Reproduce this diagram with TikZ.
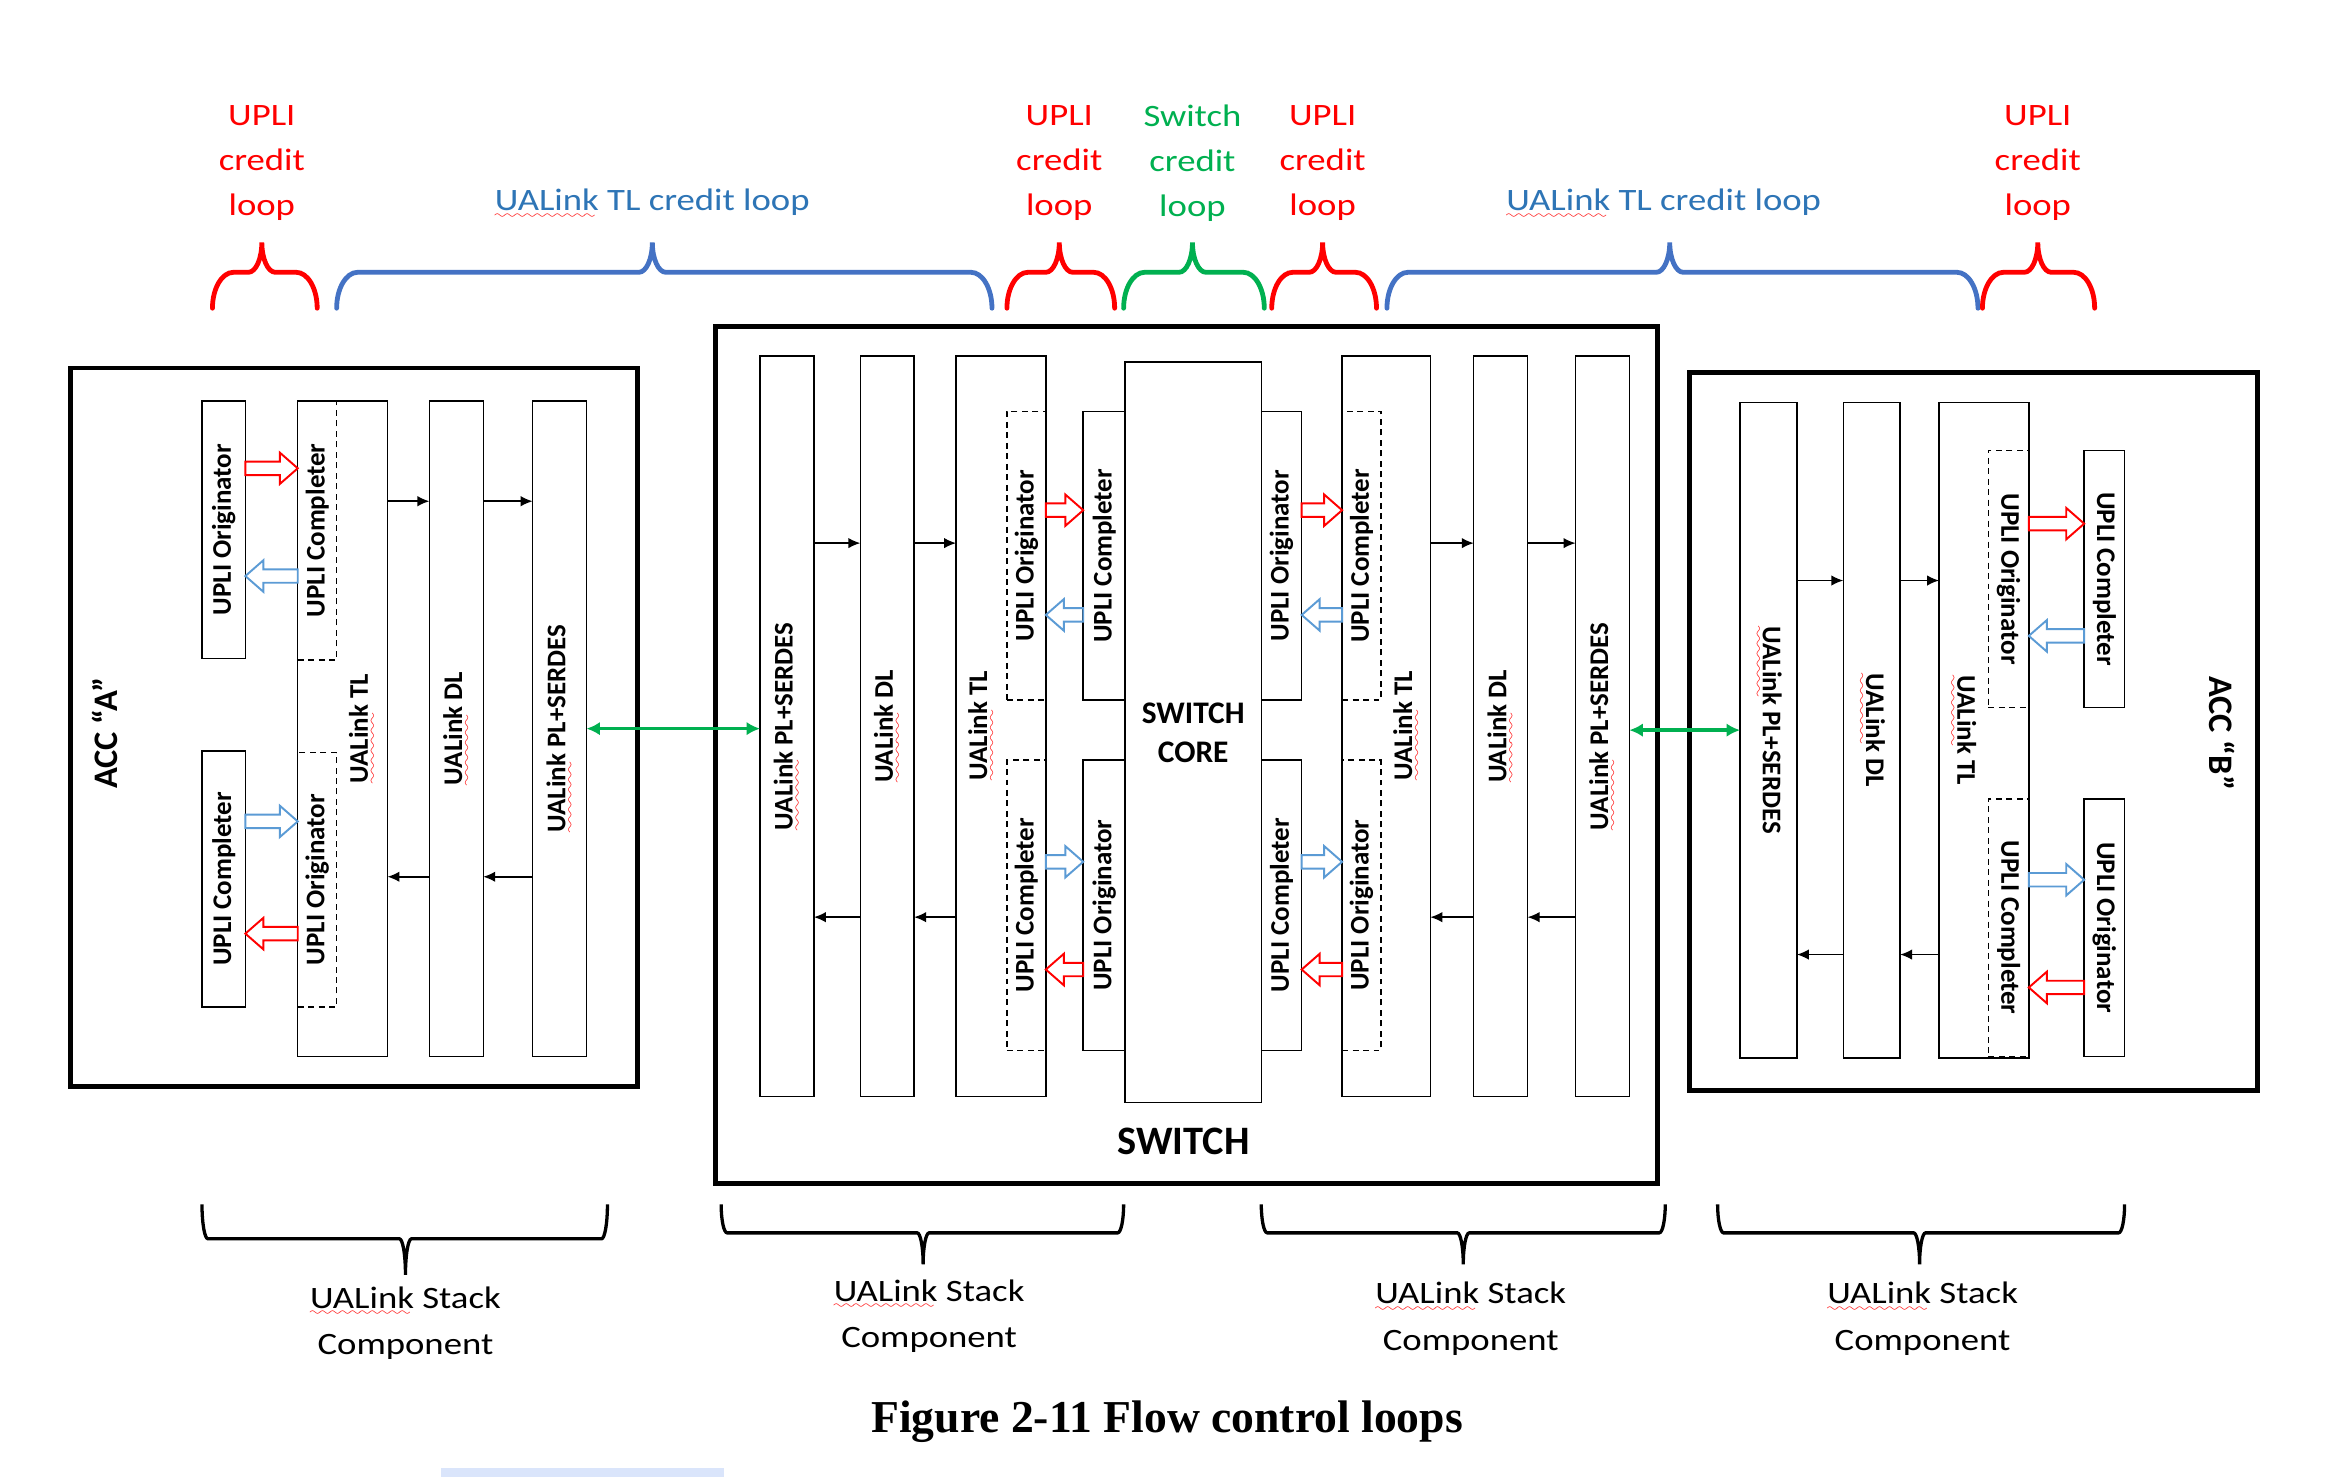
\documentclass[tikz,border=0pt]{standalone}
\usepackage{fontspec}
\setmainfont{Carlito}
\newfontfamily\lblfont[FakeStretch=1.18]{Carlito}
\newfontfamily\capfont{Liberation Serif}
\usepackage{graphicx}
\usetikzlibrary{arrows.meta,calc}
\definecolor{upred}{RGB}{255,0,0}
\definecolor{tlblue}{RGB}{46,117,182}
\definecolor{brblue}{RGB}{68,114,196}
\definecolor{swgreen}{RGB}{0,176,80}
\definecolor{arblue}{RGB}{91,155,213}
\definecolor{barblue}{RGB}{218,229,251}
\font\sqfont=lasy6 at 8pt
\newcommand\sq[1]{\setbox0\hbox{#1}\rlap{\textcolor{red}{\lower5pt\hbox to\wd0{\leaders\hbox{\sqfont\char58}\hfill}}}#1}
% box: style, name, x1, y1, x2, y2, text
\newcommand\bx[7]{\node[#1, minimum width={(#5)-(#3)}, minimum height={(#6)-(#4)}] (#2) at ({((#3)+(#5))/2},{((#4)+(#6))/2}) {#7};}
% brace: style, xa, xb, xm, yb, ym, yt, rx, tx
\newcommand\cbrace[9]{\draw[#1] (#2,#5) .. controls (#2,{#5-0.55*(#5-#6)}) and ({#2+0.45*#8},#6) .. ({#2+#8},#6)
 -- ({#4-#9},#6) .. controls ({#4-0.45*#9},#6) and (#4,{#7+0.55*(#6-#7)}) .. (#4,#7)
 .. controls (#4,{#7+0.55*(#6-#7)}) and ({#4+0.45*#9},#6) .. ({#4+#9},#6)
 -- ({#3-#8},#6) .. controls ({#3-0.45*#8},#6) and (#3,{#5-0.55*(#5-#6)}) .. (#3,#5);}
% hollow arrow: colour, from node anchor, to node anchor, y
\newcommand\harrow[4]{\draw[#1, line width=1.3pt, line join=miter] let \p1=(#2|-0,#4), \p2=(#3|-0,#4), \n1={sign(\x2-\x1)} in
 (\x1,\y1+4.5pt) -- ({\x2-(\n1)*12pt},\y1+4.5pt) -- ({\x2-(\n1)*12pt},\y1+10.5pt) -- (\x2,\y1)
 -- ({\x2-(\n1)*12pt},\y1-10.5pt) -- ({\x2-(\n1)*12pt},\y1-4.5pt) -- (\x1,\y1-4.5pt) -- cycle;}
\tikzset{
 box/.style={draw, line width=1pt, inner sep=0pt, outer sep=0pt, font=\bfseries\fontsize{18}{20}\selectfont},
 dbox/.style={box, dash pattern=on 4pt off 3pt},
 outerbox/.style={draw, line width=3.2pt, inner sep=0pt, outer sep=0pt},
 txt/.style={inner sep=0pt, font=\bfseries\fontsize{18}{20}\selectfont},
 lbl/.style={inner sep=0pt, align=center, font=\lblfont\fontsize{20.8}{30}\selectfont},
 slbl/.style={inner sep=0pt, align=center, font=\lblfont\fontsize{20.8}{31}\selectfont},
 sarr/.style={line width=1pt, -{Latex[length=8pt,width=7pt]}},
 garr/.style={swgreen, line width=2.2pt, {Latex[length=9pt,width=9pt]}-{Latex[length=9pt,width=9pt]}},
 tbrace/.style={line width=3.2pt, line cap=round},
 bbrace/.style={line width=2.2pt, black}
}
\begin{document}
\begin{tikzpicture}[x=1pt,y=-1pt]
\useasboundingbox (0,0) rectangle (1568,987);
\fill[white] (0,0) rectangle (1568,987);

% ---------- ACC A ----------
\bx{outerbox}{accA}{47}{246}{426}{726}{}
\bx{box}{oA1}{135}{268}{164}{440}{\rotatebox{90}{UPLI Originator}}
\bx{box}{cA2}{135}{502}{164}{673}{\rotatebox{90}{UPLI Completer}}
\bx{box}{tlA}{199}{268}{259}{706}{}
\bx{dbox}{dcA}{199}{268}{225}{441}{\rotatebox{90}{UPLI Completer}}
\bx{dbox}{doA}{199}{503}{225}{673}{\rotatebox{90}{UPLI Originator}}
\node[txt] (tlAt) at (242,487) {\rotatebox{90}{\sq{UALink} TL}};
\bx{box}{dlA}{287}{268}{323}{706}{\rotatebox{90}{\sq{UALink} DL}}
\bx{box}{plA}{356}{268}{392}{706}{\rotatebox{90}{\sq{UALink} PL+SERDES}}
\node[txt, font=\bfseries\fontsize{23}{26}\selectfont] (accAt) at (70,490) {\rotatebox{90}{ACC “A”}};
\draw[sarr] (tlA.east|-0,335) -- (dlA.west|-0,335);
\draw[sarr] (dlA.east|-0,335) -- (plA.west|-0,335);
\draw[sarr] (dlA.west|-0,586) -- (tlA.east|-0,586);
\draw[sarr] (plA.west|-0,586) -- (dlA.east|-0,586);
\harrow{upred}{oA1.east}{dcA.west}{313}
\harrow{arblue}{dcA.west}{oA1.east}{385}
\harrow{arblue}{cA2.east}{doA.west}{549}
\harrow{upred}{doA.west}{cA2.east}{624}

% ---------- SWITCH ----------
\bx{outerbox}{sw}{478}{218}{1108}{791}{}
\bx{box}{plS1}{508}{238}{544}{733}{\rotatebox{90}{\sq{UALink} PL+SERDES}}
\bx{box}{dlS1}{575}{238}{611}{733}{\rotatebox{90}{\sq{UALink} DL}}
\bx{box}{tlS1}{639}{238}{699}{733}{}
\bx{dbox}{doS1}{673}{275}{699}{468}{\rotatebox{90}{UPLI Originator}}
\bx{dbox}{dcS1}{673}{508}{699}{702}{\rotatebox{90}{UPLI Completer}}
\node[txt] (tlS1t) at (656,485) {\rotatebox{90}{\sq{UALink} TL}};
\bx{box}{cS1}{724}{275}{752}{468}{\rotatebox{90}{UPLI Completer}}
\bx{box}{oS1}{724}{508}{752}{702}{\rotatebox{90}{UPLI Originator}}
\bx{box}{oS2}{843}{275}{870}{468}{\rotatebox{90}{UPLI Originator}}
\bx{box}{cS2}{843}{508}{870}{702}{\rotatebox{90}{UPLI Completer}}
\bx{box, align=center, font=\bfseries\fontsize{21}{26}\selectfont}{core}{752}{242}{843}{737}{SWITCH\\CORE}
\bx{box}{tlS2}{897}{238}{956}{733}{}
\bx{dbox}{dcS2}{897}{275}{923}{468}{\rotatebox{90}{UPLI Completer}}
\bx{dbox}{doS2}{897}{508}{923}{702}{\rotatebox{90}{UPLI Originator}}
\node[txt] (tlS2t) at (940,485) {\rotatebox{90}{\sq{UALink} TL}};
\bx{box}{dlS2}{985}{238}{1021}{733}{\rotatebox{90}{\sq{UALink} DL}}
\bx{box}{plS2}{1053}{238}{1089}{733}{\rotatebox{90}{\sq{UALink} PL+SERDES}}
\node[txt, font=\bfseries\fontsize{27}{30}\selectfont] (swt) at (791,763) {SWITCH};
\draw[sarr] (plS1.east|-0,363) -- (dlS1.west|-0,363);
\draw[sarr] (dlS1.east|-0,363) -- (tlS1.west|-0,363);
\draw[sarr] (tlS1.west|-0,613) -- (dlS1.east|-0,613);
\draw[sarr] (dlS1.west|-0,613) -- (plS1.east|-0,613);
\draw[sarr] (tlS2.east|-0,363) -- (dlS2.west|-0,363);
\draw[sarr] (dlS2.east|-0,363) -- (plS2.west|-0,363);
\draw[sarr] (plS2.west|-0,613) -- (dlS2.east|-0,613);
\draw[sarr] (dlS2.west|-0,613) -- (tlS2.east|-0,613);
\harrow{upred}{doS1.east}{cS1.west}{341}
\harrow{arblue}{cS1.west}{doS1.east}{411}
\harrow{arblue}{dcS1.east}{oS1.west}{576}
\harrow{upred}{oS1.west}{dcS1.east}{648}
\harrow{upred}{oS2.east}{dcS2.west}{341}
\harrow{arblue}{dcS2.west}{oS2.east}{411}
\harrow{arblue}{cS2.east}{doS2.west}{576}
\harrow{upred}{doS2.west}{cS2.east}{648}

% ---------- ACC B ----------
\bx{outerbox}{accB}{1129}{249}{1509}{729}{}
\bx{box}{plB}{1163}{269}{1201}{707}{\rotatebox{-90}{\sq{UALink} PL+SERDES}}
\bx{box}{dlB}{1232}{269}{1270}{707}{\rotatebox{-90}{\sq{UALink} DL}}
\bx{box}{tlB}{1296}{269}{1356}{707}{}
\bx{dbox}{doB}{1329}{301}{1356}{473}{\rotatebox{-90}{UPLI Originator}}
\bx{dbox}{dcB}{1329}{534}{1356}{706}{\rotatebox{-90}{UPLI Completer}}
\node[txt] (tlBt) at (1312,488) {\rotatebox{-90}{\sq{UALink} TL}};
\bx{box}{cB1}{1393}{301}{1420}{473}{\rotatebox{-90}{UPLI Completer}}
\bx{box}{oB2}{1393}{534}{1420}{706}{\rotatebox{-90}{UPLI Originator}}
\node[txt, font=\bfseries\fontsize{23}{26}\selectfont] (accBt) at (1485,490) {\rotatebox{-90}{ACC “B”}};
\draw[sarr] (plB.east|-0,388) -- (dlB.west|-0,388);
\draw[sarr] (dlB.east|-0,388) -- (tlB.west|-0,388);
\draw[sarr] (tlB.west|-0,638) -- (dlB.east|-0,638);
\draw[sarr] (dlB.west|-0,638) -- (plB.east|-0,638);
\harrow{upred}{doB.east}{cB1.west}{350}
\harrow{arblue}{cB1.west}{doB.east}{425}
\harrow{arblue}{dcB.east}{oB2.west}{588}
\harrow{upred}{oB2.west}{dcB.east}{660}

% ---------- links ----------
\draw[garr] (plA.east|-0,487) -- (plS1.west|-0,487);
\draw[garr] (plS2.east|-0,488) -- (plB.west|-0,488);

% ---------- top braces and labels ----------
\cbrace{tbrace, upred}{142}{212}{175}{206}{182}{162}{14}{9}
\cbrace{tbrace, brblue}{225}{663}{436}{206}{182}{162}{14}{9}
\cbrace{tbrace, upred}{673}{745}{708}{206}{182}{162}{14}{9}
\cbrace{tbrace, swgreen}{751}{845}{797}{206}{182}{162}{14}{9}
\cbrace{tbrace, upred}{850}{920}{884}{206}{182}{162}{14}{9}
\cbrace{tbrace, brblue}{927}{1322}{1116}{206}{182}{162}{14}{9}
\cbrace{tbrace, upred}{1325}{1400}{1362}{206}{182}{162}{14}{9}
\node[lbl, upred] (t1) at (175,109) {UPLI\\credit\\loop};
\node[lbl, tlblue] (t2) at (436,136) {\sq{UALink} TL credit loop};
\node[lbl, upred] (t3) at (708,109) {UPLI\\credit\\loop};
\node[lbl, swgreen] (t4) at (797,109) {Switch\\credit\\loop};
\node[lbl, upred] (t5) at (884,109) {UPLI\\credit\\loop};
\node[lbl, tlblue] (t6) at (1112,136) {\sq{UALink} TL credit loop};
\node[lbl, upred] (t7) at (1362,109) {UPLI\\credit\\loop};

% ---------- bottom braces and labels ----------
\cbrace{bbrace}{135}{406}{271}{805}{828}{852}{4}{4}
\cbrace{bbrace}{482}{751}{617}{805}{824}{845}{4}{4}
\cbrace{bbrace}{843}{1113}{978}{805}{824}{845}{4}{4}
\cbrace{bbrace}{1148}{1420}{1283}{805}{824}{845}{4}{4}
\node[slbl] (b1) at (271,884.5) {\sq{UALink} Stack\\Component};
\node[slbl] (b2) at (621,879.5) {\sq{UALink} Stack\\Component};
\node[slbl] (b3) at (983,881.5) {\sq{UALink} Stack\\Component};
\node[slbl] (b4) at (1285,881.5) {\sq{UALink} Stack\\Component};

% ---------- caption ----------
\node[inner sep=0pt, font=\capfont\bfseries\fontsize{30.5}{34}\selectfont] (cap) at (780,950) {Figure 2-11 Flow control loops};
\fill[barblue] (295,981) rectangle (484,987);
\end{tikzpicture}
\end{document}
